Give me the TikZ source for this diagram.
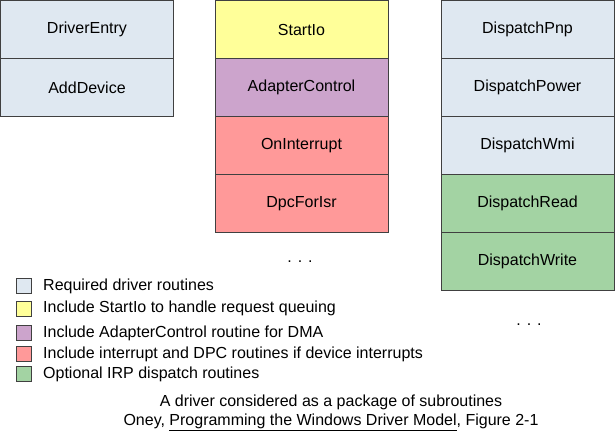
\documentclass[tikz,border=0pt]{standalone}
\usepackage{fontspec}
\setmainfont{Liberation Sans}
\definecolor{reqc}{RGB}{223,232,241}
\definecolor{yelc}{RGB}{255,255,153}
\definecolor{purc}{RGB}{204,164,204}
\definecolor{redc}{RGB}{255,153,153}
\definecolor{grnc}{RGB}{163,211,163}
\definecolor{edgec}{RGB}{64,64,64}
\tikzset{
  routine/.style={draw=edgec, line width=1pt, minimum width=173pt, minimum height=58pt, inner sep=0pt, font=\fontsize{16}{19}\selectfont, anchor=center},
  swatch/.style={draw=edgec, line width=0.8pt, minimum width=15pt, minimum height=15pt, inner sep=0pt},
  legtext/.style={anchor=west, inner sep=0pt, font=\fontsize{16}{19}\selectfont},
  dotsnode/.style={inner sep=0pt, font=\fontsize{16}{19}\selectfont}
}
\begin{document}
\begin{tikzpicture}[x=1pt,y=-1pt]
\useasboundingbox (0,0) rectangle (615,432);
\fill[white] (0,0) rectangle (615,432);
% left column
\node[routine, fill=reqc] (de) at (87,29.5) {DriverEntry};
\node[routine, fill=reqc] (ad) at (87,87.5) {AddDevice};
% middle column
\node[routine, fill=yelc] (si) at (301.5,29.5) {StartIo};
\node[routine, fill=purc] (ac) at (301.5,87.5) {AdapterControl};
\node[routine, fill=redc] (oi) at (301.5,145.5) {OnInterrupt};
\node[routine, fill=redc] (dp) at (301.5,203.5) {DpcForIsr};
% right column
\node[routine, fill=reqc] (pnp) at (527.5,29.5) {DispatchPnp};
\node[routine, fill=reqc] (pow) at (527.5,87.5) {DispatchPower};
\node[routine, fill=reqc] (wmi) at (527.5,145.5) {DispatchWmi};
\node[routine, fill=grnc] (rd) at (527.5,203.5) {DispatchRead};
\node[routine, fill=grnc] (wr) at (527.5,261.5) {DispatchWrite};
% dots
\node[dotsnode] (dots1) at (300,262) {. . .};
\node[dotsnode] (dots2) at (529,325) {. . .};
% legend
\node[swatch, fill=reqc] (s1) at (24,286) {};
\node[legtext] (l1) at (43,286) {Required driver routines};
\node[swatch, fill=yelc] (s2) at (24,308.5) {};
\node[legtext] (l2) at (43,308.5) {Include StartIo to handle request queuing};
\node[swatch, fill=purc] (s3) at (24,333) {};
\node[legtext] (l3) at (43,333) {Include AdapterControl routine for DMA};
\node[swatch, fill=redc] (s4) at (24,354) {};
\node[legtext] (l4) at (43,354) {Include interrupt and DPC routines if device interrupts};
\node[swatch, fill=grnc] (s5) at (24,374) {};
\node[legtext] (l5) at (43,374) {Optional IRP dispatch routines};
% caption
\node[align=center, inner sep=0pt, font=\fontsize{16}{18.5}\selectfont] (cap) at (331,413) {A driver considered as a package of subroutines\\Oney, \underline{Programming the Windows Driver Model}, Figure 2-1};
\end{tikzpicture}
\end{document}
